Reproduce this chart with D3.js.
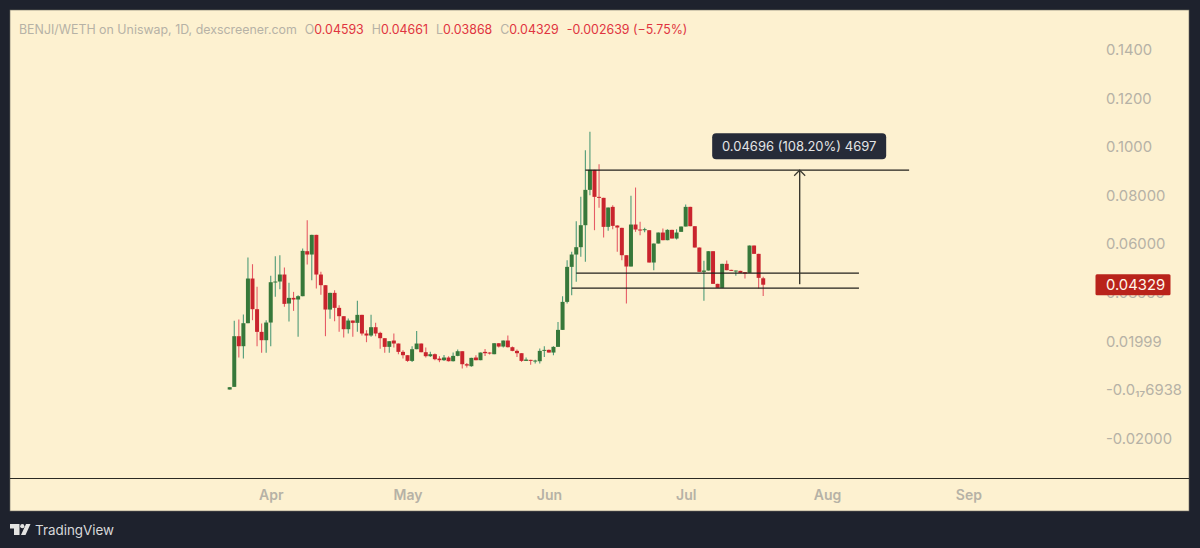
<!DOCTYPE html>
<html>
<head>
<meta charset="utf-8">
<style>
  html, body { margin: 0; padding: 0; background: #1e222d; }
  svg { display: block; }
  text { font-family: Inter, Roboto, sans-serif; }
</style>
</head>
<body>
<svg id="chart" width="1200" height="548"></svg>
<script src="https://cdnjs.cloudflare.com/ajax/libs/d3/7.8.5/d3.min.js"></script>
<script>
// daily candles, first one is Mar 23
const firstDay = Date.UTC(2024, 2, 23);
const opens = [.00015,.00125,.0221,.01798,.02745,.04583,.03321,.02388,.02045,.02772,.04432,.0446,.04748,.03554,.03787,.03719,.03856,.05708,.05571,.0638,.04748,.04309,.03307,.03993,.03376,.03033,.02498,.02855,.02759,.03088,.0232,.02237,.0258,.02347,.02128,.01771,.02031,.01908,.01565,.01428,.01194,.01675,.01908,.01551,.01387,.01469,.0129,.01222,.01332,.01181,.014,.01592,.01057,.00975,.01332,.01222,.01565,.01537,.01469,.01921,.01784,.02031,.01757,.01606,.0151,.01194,.01236,.01167,.01181,.0162,.01647,.01537,.01771,.0247,.03622,.05063,.05571,.05873,.06778,.08232,.09055,.07944,.07903,.06709,.07532,.06764,.06668,.05543,.05077,.06805,.066,.06572,.06572,.05242,.06023,.06476,.06161,.06586,.06229,.06504,.06723,.07532,.06737,.05859,.04858,.04912,.05708,.04364,.04199,.05187,.0494,.04885,.04899,.04844,.04816,.05941,.05598,.04593];
const highs = [.00111,.02841,.02896,.03102,.05447,.05173,.0424,.02731,.02868,.04693,.05502,.05543,.05036,.04405,.04034,.03897,.05818,.06983,.0638,.0638,.04857,.04309,.03993,.04103,.03486,.03033,.02937,.02855,.03664,.03088,.02457,.03088,.02759,.02388,.02128,.02004,.02319,.01908,.01633,.01428,.01798,.02429,.01908,.01743,.01565,.01496,.01387,.01441,.01387,.01537,.01661,.01592,.01112,.01318,.01428,.01537,.01688,.01551,.01921,.01921,.02031,.02237,.01784,.01661,.0151,.01332,.01236,.01236,.01702,.01798,.01661,.01798,.02799,.03856,.05338,.05681,.06942,.07944,.09864,.10619,.09055,.09288,.07903,.07505,.07601,.06778,.06668,.05543,.07985,.08328,.06915,.06668,.06572,.06023,.06476,.06641,.06613,.06586,.06613,.06723,.07628,.07532,.06737,.05859,.0531,.05708,.05708,.04364,.05187,.05324,.0494,.04912,.04899,.04844,.05941,.05941,.05598,.04661];
const lows = [.00015,.00125,.01332,.01291,.02745,.02868,.01798,.01524,.01524,.01798,.03829,.04144,.03417,.02814,.03252,.02183,.03856,.05159,.04514,.04172,.03911,.0221,.02923,.02827,.02388,.02155,.0232,.02183,.02388,.02237,.01963,.02183,.0221,.01689,.01524,.01524,.01743,.01469,.0129,.01153,.01153,.01675,.01551,.01332,.01359,.01222,.0114,.01194,.01167,.01167,.01387,.00879,.0092,.00948,.01222,.01222,.014,.01455,.01469,.01743,.01743,.01743,.01592,.01359,.01153,.01194,.0103,.01085,.01085,.01359,.01537,.01428,.01771,.0247,.03554,.03897,.04446,.05475,.05269,.08012,.06572,.07491,.0627,.06545,.06613,.05681,.05338,.03554,.05077,.06504,.06366,.0649,.05242,.04926,.06023,.06161,.06161,.06229,.06188,.06504,.06723,.06737,.05859,.04858,.03664,.04912,.04364,.04199,.04199,.04926,.04899,.04693,.04816,.04583,.04816,.05598,.04172,.03868];
const closes = [.00111,.0221,.01798,.02745,.04583,.03321,.02388,.02045,.02772,.04432,.0446,.04748,.0354,.03787,.03719,.03856,.05722,.05571,.0638,.04748,.04309,.03307,.03993,.03376,.03033,.02498,.02855,.02759,.03088,.0232,.02237,.0258,.0232,.02128,.01771,.02004,.01908,.01565,.01428,.01194,.01675,.01908,.01551,.01387,.01469,.01263,.01222,.01332,.01181,.014,.01592,.01057,.01002,.01318,.01222,.01537,.0151,.0151,.01921,.01784,.02031,.01757,.01606,.0151,.01194,.01249,.01208,.01208,.01606,.01647,.01537,.01771,.0247,.03622,.05063,.05571,.05873,.06778,.08232,.09055,.07944,.07903,.06709,.07505,.0675,.06682,.05543,.05077,.06805,.066,.06586,.06613,.05242,.06023,.06476,.06161,.06586,.06229,.06476,.06723,.07532,.06737,.05859,.04858,.04912,.05708,.04364,.04199,.05187,.04926,.04899,.04912,.04816,.04789,.05941,.05598,.04611,.04329];

const yTicks = [.14, .12, .1, .08, .06, .04, .02, 0, -.02];
const yTickLabels = ["0.1400", "0.1200", "0.1000", "0.08000", "0.06000", "0.03999", "0.01999", "-0.0₁₇6938", "-0.02000"];
const monthTicks = [[2024, 3], [2024, 4], [2024, 5], [2024, 6], [2024, 7], [2024, 8]];
const monthNames = ["Apr", "May", "Jun", "Jul", "Aug", "Sep"];
const lastClose = .04329;

// drawing tool levels: [price, first candle, last candle]
const drawnLevels = [[.09041, 78, 149], [.04802, 76, 138], [.04185, 75, 138]];
const arrowFrom = .0435, arrowTo = .09041, arrowDay = 125;
const measureLabel = "0.04696 (108.20%) 4697";

const legendParts = [
  ["BENJI/WETH on Uniswap, 1D, dexscreener.com", "grey", 0],
  ["O", "grey", 8], ["0.04593", "red", 0],
  ["H", "grey", 8], ["0.04661", "red", 0],
  ["L", "grey", 8], ["0.03868", "red", 0],
  ["C", "grey", 8], ["0.04329", "red", 0],
  ["-0.002639 (−5.75%)", "red", 8]
];

const bg = "#fdf1d0", frame = "#1e222d", greyText = "#b6b2a6";
const upBody = "#37783a", upWick = "#4f9b78", downBody = "#c9242d", downWick = "#e65c66";
const DAY = 86400000;

const svg = d3.select("#chart");
svg.append("rect").attr("width", 1200).attr("height", 548).attr("fill", frame);
svg.append("rect").attr("x", 10).attr("y", 10).attr("width", 1179).attr("height", 501)
  .attr("fill", bg).attr("stroke", "#6f6d62").attr("stroke-width", 0.6);

const x = d3.scaleUtc()
  .domain([firstDay, firstDay + 117 * DAY])
  .range([229.7, 763.2]);
const y = d3.scaleLinear().domain([.14, -.02]).range([49.7, 438.5]);
const dayX = i => x(firstDay + i * DAY);

// candles
const candles = d3.range(opens.length);
const g = svg.append("g");
g.selectAll("line.wick").data(candles).join("line")
  .attr("class", "wick")
  .attr("x1", i => dayX(i)).attr("x2", i => dayX(i))
  .attr("y1", i => y(highs[i])).attr("y2", i => y(lows[i]))
  .attr("stroke", i => closes[i] >= opens[i] ? upWick : downWick)
  .attr("stroke-width", 1.1);
g.selectAll("rect.body").data(candles).join("rect")
  .attr("class", "body")
  .attr("x", i => dayX(i) - 2).attr("width", 4)
  .attr("y", i => y(Math.max(opens[i], closes[i])))
  .attr("height", i => Math.max(1, Math.abs(y(opens[i]) - y(closes[i]))))
  .attr("fill", i => closes[i] >= opens[i] ? upBody : downBody);

// drawn levels and the measure arrow
svg.append("g").selectAll("line").data(drawnLevels).join("line")
  .attr("x1", d => dayX(d[1])).attr("x2", d => dayX(d[2]))
  .attr("y1", d => y(d[0])).attr("y2", d => y(d[0]))
  .attr("stroke", "#22211c").attr("stroke-width", 1.3);

const arrowX = dayX(arrowDay), arrowTop = y(arrowTo);
svg.append("line")
  .attr("x1", arrowX).attr("x2", arrowX)
  .attr("y1", y(arrowFrom)).attr("y2", arrowTop)
  .attr("stroke", "#3a382f").attr("stroke-width", 1.4);
svg.append("path")
  .attr("d", d3.line()([[arrowX - 5.5, arrowTop + 5.5], [arrowX, arrowTop], [arrowX + 5.5, arrowTop + 5.5]]))
  .attr("fill", "none").attr("stroke", "#3a382f").attr("stroke-width", 1.2);

svg.append("rect")
  .attr("x", arrowX - 87.5).attr("y", arrowTop - 37).attr("width", 174).attr("height", 26).attr("rx", 4)
  .attr("fill", "#262b38");
svg.append("text")
  .attr("x", arrowX - 0.5).attr("y", arrowTop - 19.2).attr("text-anchor", "middle")
  .attr("fill", "#e4e5e6").attr("font-size", 13).text(measureLabel);

// time axis
const monthDates = monthTicks.map(m => Date.UTC(m[0], m[1], 1));
const xAxis = d3.axisBottom(x)
  .tickValues(monthDates)
  .tickSize(0)
  .tickFormat((d, i) => monthNames[i]);
const xG = svg.append("g").attr("transform", "translate(0,485)").call(xAxis);
xG.select(".domain").remove();
xG.selectAll("text").attr("fill", greyText).attr("font-size", 14).attr("font-weight", 600)
  .attr("dy", 0).attr("y", 15);

svg.append("line").attr("x1", 10).attr("x2", 1189).attr("y1", 478.5).attr("y2", 478.5)
  .attr("stroke", "#2b2a23").attr("stroke-width", 1.1);

// price axis
const yAxis = d3.axisRight(y)
  .tickValues(yTicks)
  .tickSize(0)
  .tickFormat((d, i) => yTickLabels[i]);
const yG = svg.append("g").attr("transform", "translate(1106,0)").call(yAxis);
yG.select(".domain").remove();
yG.selectAll("text").attr("x", 0).attr("fill", greyText).attr("font-size", 14.8);

// last price tag
svg.append("rect")
  .attr("x", 1095.5).attr("y", y(lastClose) - 10.5).attr("width", 75).attr("height", 21).attr("rx", 1.5)
  .attr("fill", "#b9231b");
svg.append("text")
  .attr("x", 1106).attr("y", y(lastClose) + 5.3)
  .attr("fill", "#fff6ea").attr("font-size", 14.8).text(d3.format(".5f")(lastClose));

// legend
const legend = svg.append("text").attr("x", 19).attr("y", 33.5).attr("font-size", 12.4);
legend.selectAll("tspan").data(legendParts).join("tspan")
  .attr("dx", d => d[2])
  .attr("fill", d => d[1] === "red" ? "#e0343f" : greyText)
  .text(d => d[0]);

// TradingView mark
svg.append("path")
  .attr("d", "M10 524H19.5V535H14V528.5H10ZM26 524H30.5L25.5 535H21Z")
  .attr("fill", "#e4e4e2");
svg.append("circle").attr("cx", 22.3).attr("cy", 526.2).attr("r", 2.1).attr("fill", "#e4e4e2");
svg.append("text").attr("x", 35).attr("y", 535)
  .attr("fill", "#d8d9da").attr("font-size", 13.4).text("TradingView");
</script>
</body>
</html>
